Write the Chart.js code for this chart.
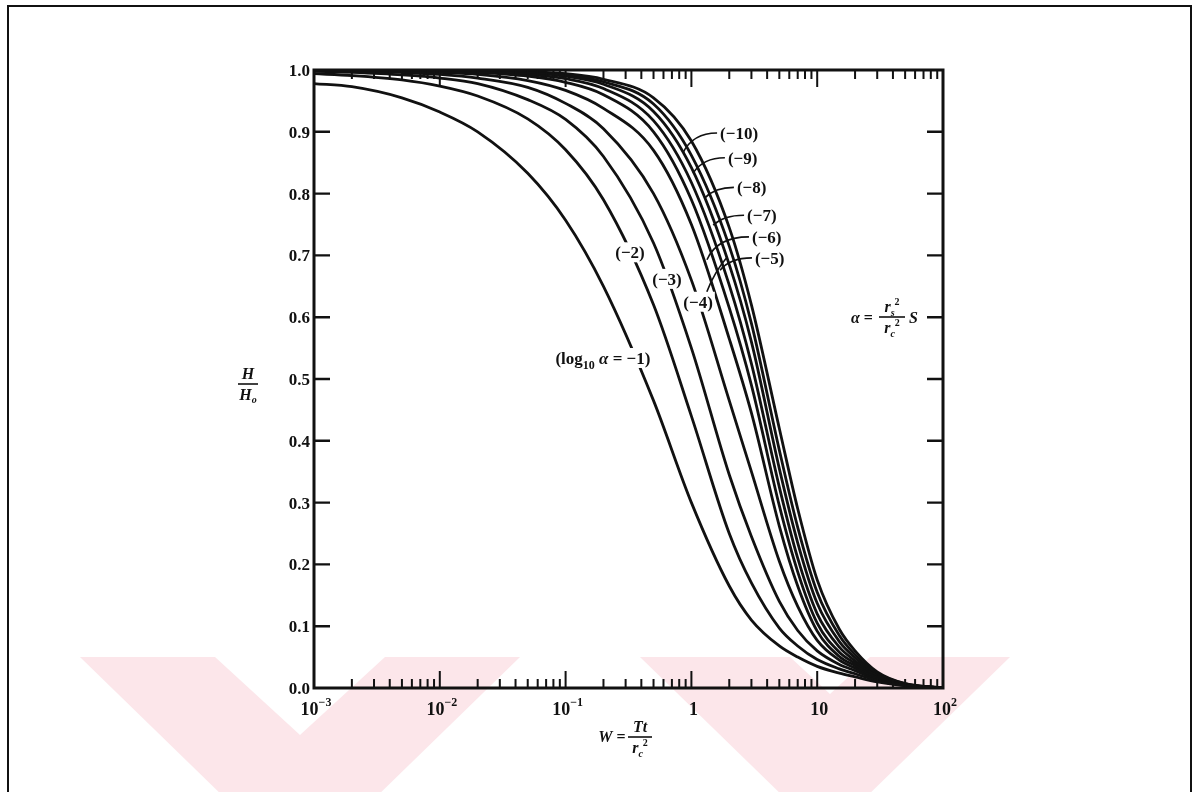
<!DOCTYPE html>
<html>
<head>
<meta charset="utf-8">
<script src="https://cdn.jsdelivr.net/npm/chart.js@4.4.1/dist/chart.umd.min.js"></script>
<style>
  html, body { margin: 0; padding: 0; background: #fff; }
  #wrap { width: 1200px; height: 792px; }
</style>
</head>
<body>
<div id="wrap"><canvas id="typeCurves" width="1200" height="792"></canvas></div>
<script>
// W = Tt / rc^2 sample points shared by every curve
const wValues = [0.001, 0.002, 0.005, 0.01, 0.02, 0.05, 0.1, 0.2, 0.5, 1, 2, 3, 5, 7, 10, 15, 20, 30, 50, 100];

// H/H0 for log10(alpha) = -1 ... -10
const hAlpha1  = [0.978, 0.973, 0.955, 0.932, 0.900, 0.833, 0.757, 0.650, 0.465, 0.300, 0.165, 0.110, 0.068, 0.050, 0.035, 0.024, 0.018, 0.010, 0.004, 0.000];
const hAlpha2  = [0.994, 0.991, 0.984, 0.974, 0.958, 0.921, 0.871, 0.790, 0.620, 0.440, 0.250, 0.170, 0.097, 0.068, 0.046, 0.031, 0.023, 0.012, 0.004, 0.000];
const hAlpha3  = [0.998, 0.996, 0.992, 0.987, 0.978, 0.952, 0.920, 0.860, 0.720, 0.550, 0.345, 0.245, 0.140, 0.093, 0.060, 0.038, 0.028, 0.014, 0.004, 0.000];
const hAlpha4  = [0.999, 0.998, 0.996, 0.993, 0.987, 0.972, 0.946, 0.905, 0.800, 0.660, 0.465, 0.350, 0.205, 0.132, 0.077, 0.045, 0.032, 0.016, 0.005, 0.000];
const hAlpha5  = [1.000, 0.999, 0.998, 0.996, 0.993, 0.983, 0.967, 0.938, 0.870, 0.750, 0.565, 0.445, 0.262, 0.165, 0.092, 0.051, 0.036, 0.017, 0.005, 0.000];
const hAlpha6  = [1.000, 1.000, 0.999, 0.998, 0.996, 0.990, 0.980, 0.960, 0.900, 0.790, 0.615, 0.490, 0.295, 0.188, 0.105, 0.058, 0.040, 0.019, 0.005, 0.000];
const hAlpha7  = [1.000, 1.000, 1.000, 0.999, 0.997, 0.993, 0.986, 0.970, 0.918, 0.818, 0.652, 0.525, 0.325, 0.210, 0.120, 0.066, 0.044, 0.020, 0.006, 0.000];
const hAlpha8  = [1.000, 1.000, 1.000, 0.999, 0.998, 0.995, 0.990, 0.977, 0.933, 0.842, 0.685, 0.560, 0.355, 0.235, 0.137, 0.075, 0.049, 0.022, 0.006, 0.000];
const hAlpha9  = [1.000, 1.000, 1.000, 1.000, 0.999, 0.996, 0.992, 0.981, 0.945, 0.862, 0.715, 0.590, 0.385, 0.260, 0.155, 0.085, 0.054, 0.024, 0.007, 0.000];
const hAlpha10 = [1.000, 1.000, 1.000, 1.000, 0.999, 0.997, 0.994, 0.985, 0.955, 0.885, 0.745, 0.620, 0.420, 0.290, 0.175, 0.095, 0.060, 0.026, 0.007, 0.000];

const curves = [hAlpha1, hAlpha2, hAlpha3, hAlpha4, hAlpha5, hAlpha6, hAlpha7, hAlpha8, hAlpha9, hAlpha10];

// curve labels, where they sit (W, H) and how they are anchored
const curveLabels = ['(log10 α = −1)', '(−2)', '(−3)', '(−4)', '(−5)', '(−6)', '(−7)', '(−8)', '(−9)', '(−10)'];
const labelW = [0.198, 0.325, 0.64, 1.13, 3.2, 3.03, 2.77, 2.3, 1.95, 1.69];
const labelH = [0.534, 0.705, 0.662, 0.625, 0.696, 0.73, 0.765, 0.81, 0.858, 0.898];
// leader lines start on the curve at (W, H); null = no leader
const leaderW = [null, null, null, 1.92, 1.69, 1.33, 1.49, 1.28, 1.03, 0.857];
const leaderH = [null, null, null, 0.697, 0.676, 0.693, 0.749, 0.793, 0.833, 0.866];

// axis ticks
const xTickValues = [0.001, 0.01, 0.1, 1, 10, 100];
const xTickBase = ['10', '10', '10', '1', '10', '10'];
const xTickExp = ['−3', '−2', '−1', '', '', '2'];
const yTickValues = [0, 0.1, 0.2, 0.3, 0.4, 0.5, 0.6, 0.7, 0.8, 0.9, 1.0];
const yTickLabels = ['0.0', '0.1', '0.2', '0.3', '0.4', '0.5', '0.6', '0.7', '0.8', '0.9', '1.0'];

// faint stamp along the foot of the page, as polygons in page pixels
const stampLeft = [[80, 657], [215, 657], [300, 735], [385, 657], [520, 657], [373, 800], [227, 800]];
const stampRight = [[640, 657], [790, 657], [830, 694], [870, 657], [1010, 657], [863, 800], [787, 800]];

const serif = '"Liberation Serif", "DejaVu Serif", serif';
const ink = '#111';
const labelSize = 17;

function fontOf(size, italic) {
  return (italic ? 'italic ' : '') + 'bold ' + size + 'px ' + serif;
}

function runWidth(ctx, parts) {
  let w = 0;
  parts.forEach(p => {
    ctx.font = fontOf(p.size, p.italic);
    w += ctx.measureText(p.text).width;
  });
  return w;
}

// text pieces with sub/superscripts on one baseline
function drawRun(ctx, parts, x, y, align) {
  const w = runWidth(ctx, parts);
  let cx = align === 'center' ? x - w / 2 : align === 'right' ? x - w : x;
  ctx.textAlign = 'left';
  ctx.textBaseline = 'alphabetic';
  parts.forEach(p => {
    ctx.font = fontOf(p.size, p.italic);
    ctx.fillText(p.text, cx, y + (p.dy || 0));
    cx += ctx.measureText(p.text).width;
  });
  return w;
}

function labelParts(i) {
  if (i === 0) {
    return [
      { text: '(log', size: labelSize },
      { text: '10', size: 12, dy: 5 },
      { text: ' ', size: labelSize },
      { text: 'α', size: labelSize, italic: true },
      { text: ' = −1)', size: labelSize }
    ];
  }
  return [{ text: curveLabels[i], size: labelSize }];
}

// simple stacked fraction, centred on cx with the bar at barY
function drawFraction(ctx, top, bottom, cx, barY, halfWidth) {
  drawRun(ctx, top, cx, barY - 5, 'center');
  drawRun(ctx, bottom, cx, barY + 16, 'center');
  ctx.beginPath();
  ctx.lineWidth = 1.6;
  ctx.moveTo(cx - halfWidth, barY);
  ctx.lineTo(cx + halfWidth, barY);
  ctx.stroke();
}

function fillPoly(ctx, pts) {
  ctx.beginPath();
  pts.forEach((p, i) => (i ? ctx.lineTo(p[0], p[1]) : ctx.moveTo(p[0], p[1])));
  ctx.closePath();
  ctx.fill();
}

const decorations = {
  id: 'decorations',
  beforeDraw(chart) {
    const c = chart.ctx;
    c.save();
    c.fillStyle = '#fff';
    c.fillRect(0, 0, chart.width, chart.height);
    c.fillStyle = '#fce6ea';
    fillPoly(c, stampLeft);
    fillPoly(c, stampRight);
    c.restore();
  },
  afterDraw(chart) {
    const c = chart.ctx;
    const xs = chart.scales.x, ys = chart.scales.y;
    const a = chart.chartArea;
    c.save();
    c.fillStyle = ink;
    c.strokeStyle = ink;

    // curve labels, cut into their curves
    curveLabels.forEach((t, i) => {
      const parts = labelParts(i);
      const px = xs.getPixelForValue(labelW[i]);
      const py = ys.getPixelForValue(labelH[i]);
      const w = runWidth(c, parts);
      const centred = i < 4;
      const left = centred ? px - w / 2 : px;
      c.fillStyle = '#fff';
      c.fillRect(left - 2, py - 10, w + 4, 20);
      c.fillStyle = ink;
      drawRun(c, parts, left, py + 6, 'left');
      if (leaderW[i] !== null) {
        const sx = xs.getPixelForValue(leaderW[i]);
        const sy = ys.getPixelForValue(leaderH[i]);
        c.beginPath();
        c.lineWidth = 1.6;
        if (centred) {
          c.moveTo(px + w / 2 - 6, py - 10);
          c.quadraticCurveTo(px + w / 2 + 2, sy + 14, sx, sy);
        } else {
          c.moveTo(sx, sy);
          c.quadraticCurveTo(sx + 10, py, left - 3, py);
        }
        c.stroke();
      }
    });

    // plot frame
    c.lineWidth = 3;
    c.strokeRect(a.left, a.top, a.right - a.left, a.bottom - a.top);

    // inward ticks on the H/H0 axis, both sides
    c.lineWidth = 2.4;
    yTickValues.forEach(v => {
      if (v <= 0 || v >= 1) return;
      const y = ys.getPixelForValue(v);
      c.beginPath();
      c.moveTo(a.left, y); c.lineTo(a.left + 16, y);
      c.moveTo(a.right, y); c.lineTo(a.right - 16, y);
      c.stroke();
    });

    // log ticks on the W axis, top and bottom
    c.lineWidth = 2;
    for (let d = -3; d <= 1; d++) {
      for (let m = 2; m <= 10; m++) {
        const v = m * Math.pow(10, d);
        if (v >= 100) continue;
        const x = xs.getPixelForValue(v);
        const len = m === 10 ? 17 : 9;
        c.beginPath();
        c.moveTo(x, a.bottom); c.lineTo(x, a.bottom - len);
        c.moveTo(x, a.top); c.lineTo(x, a.top + len);
        c.stroke();
      }
    }

    // tick labels
    yTickValues.forEach((v, i) => {
      drawRun(c, [{ text: yTickLabels[i], size: 17 }], a.left - 4, ys.getPixelForValue(v) + 6, 'right');
    });
    xTickValues.forEach((v, i) => {
      const parts = [{ text: xTickBase[i], size: 18 }];
      if (xTickExp[i]) parts.push({ text: xTickExp[i], size: 12, dy: -9 });
      drawRun(c, parts, xs.getPixelForValue(v) + 2, a.bottom + 27, 'center');
    });

    // axis titles
    drawFraction(c, [{ text: 'H', size: 16, italic: true }],
      [{ text: 'H', size: 16, italic: true }, { text: 'o', size: 10, dy: 3, italic: true }],
      248, 384, 10);
    drawRun(c, [{ text: 'W', size: 16, italic: true }, { text: ' =', size: 16 }], 612, 742, 'center');
    drawFraction(c, [{ text: 'Tt', size: 16, italic: true }],
      [{ text: 'r', size: 16, italic: true }, { text: 'c', size: 10, dy: 4, italic: true }, { text: '2', size: 10, dy: -7 }],
      640, 737, 12);

    // definition of alpha
    drawRun(c, [{ text: 'α', size: 16, italic: true }, { text: ' =', size: 16 }], 862, 323, 'center');
    drawFraction(c,
      [{ text: 'r', size: 16, italic: true }, { text: 's', size: 10, dy: 4, italic: true }, { text: '2', size: 10, dy: -7 }],
      [{ text: 'r', size: 16, italic: true }, { text: 'c', size: 10, dy: 4, italic: true }, { text: '2', size: 10, dy: -7 }],
      892, 317, 13);
    drawRun(c, [{ text: 'S', size: 16, italic: true }], 909, 323, 'left');

    // page border
    c.lineWidth = 2;
    c.strokeRect(8, 6, 1183, 800);
    c.restore();
  }
};

const datasets = curves.map((h, i) => ({
  label: curveLabels[i],
  data: wValues.map((w, j) => ({ x: w, y: h[j] })),
  showLine: true,
  borderColor: ink,
  borderWidth: 2.8,
  pointRadius: 0,
  fill: false,
  cubicInterpolationMode: 'monotone'
}));

new Chart(document.getElementById('typeCurves').getContext('2d'), {
  type: 'scatter',
  data: { datasets: datasets },
  options: {
    responsive: false,
    animation: false,
    devicePixelRatio: 1,
    layout: { padding: { left: 314, right: 257, top: 70, bottom: 104 } },
    plugins: { legend: { display: false }, tooltip: { enabled: false } },
    scales: {
      x: { type: 'logarithmic', min: 0.001, max: 100, display: false },
      y: { type: 'linear', min: 0, max: 1, display: false }
    }
  },
  plugins: [decorations]
});
</script>
</body>
</html>
